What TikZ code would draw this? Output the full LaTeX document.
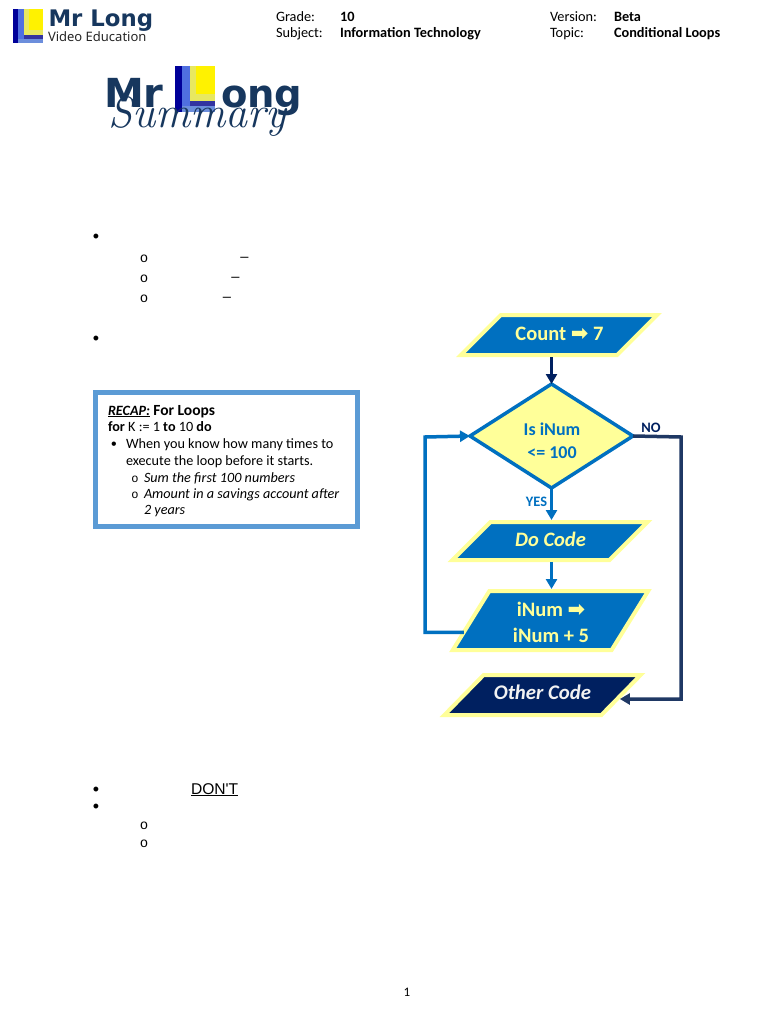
\documentclass[tikz,border=0pt]{standalone}
\usepackage{fontspec}
\setmainfont{Carlito}
\newfontfamily\dv{DejaVu Sans}
\newfontfamily\las{Liberation Sans}
\newfontfamily\lam{Liberation Mono}
\newfontfamily\nos{Noto Sans}
\newfontfamily\lmr{Latin Modern Roman}
\usetikzlibrary{shapes.geometric,arrows.meta,calc}
\definecolor{fcblue}{HTML}{0070C0}
\definecolor{fcyellow}{HTML}{FFFF99}
\definecolor{fcnavy}{HTML}{002060}
\definecolor{fcline}{HTML}{1F3864}
\definecolor{logotext}{HTML}{17375E}
\definecolor{boxblue}{HTML}{5B9BD5}
\definecolor{ldark}{HTML}{000099}
\definecolor{lmid}{HTML}{4F6FE0}
\definecolor{lpale}{HTML}{E8E860}
\definecolor{lyellow}{HTML}{FFF200}
\definecolor{lband}{HTML}{3333A0}
\definecolor{llight}{HTML}{6C8EDC}
\newcommand{\fs}[1]{\fontsize{#1}{#1}\selectfont}
\newcommand{\logoL}[3]{%
 \begin{scope}[shift={(#1,#2)},x=#3pt,y=-#3pt]
  \fill[lpale] (11,0) rectangle (30,26);
  \fill[lyellow] (16,0) rectangle (30,21);
  \fill[lmid] (5,0) rectangle (11,34);
  \fill[ldark] (0,0) rectangle (5,34);
  \fill[lband] (11,26) rectangle (30,30);
  \fill[llight] (5,30) rectangle (30,34);
 \end{scope}}
\tikzset{
 txt/.style={inner sep=0pt,outer sep=0pt,anchor=base west,text=black},
 hdr/.style={txt,font=\fs{14.3}},
 hdrb/.style={txt,font=\fs{14.3}\bfseries},
 recap/.style={txt,font=\fs{14.2}},
 bul/.style={inner sep=0pt,anchor=base,font=\las\fs{18},text=black},
 circ/.style={inner sep=0pt,font=\lam\fs{14},text=black},
 dashmark/.style={inner sep=0pt,font=\las\fs{14.7},text=black},
 para/.style={rectangle,draw=fcyellow,fill=fcblue,line width=4pt,inner sep=0pt,outer sep=0pt},
 paratext/.style={inner sep=0pt,outer sep=0pt,text=fcyellow,font=\fs{20.5}\bfseries,align=center},
 decide/.style={diamond,draw=fcblue,fill=fcyellow,line width=3.5pt,inner sep=0pt,outer sep=0pt,
   aspect=1.6,minimum width=163pt,minimum height=104pt},
 decidetext/.style={inner sep=0pt,outer sep=0pt,text=fcblue,font=\fs{18}\bfseries,align=center},
 blueflow/.style={draw=fcblue,line width=3.5pt,-{Triangle[length=10pt,width=11pt]}},
 navyflow/.style={draw=fcnavy,line width=3.5pt,-{Triangle[length=10pt,width=11pt]}},
 noflow/.style={draw=fcline,line width=3.5pt,-{Triangle[length=10pt,width=11pt]}},
}
\begin{document}
\begin{tikzpicture}[x=1pt,y=-1pt]
\useasboundingbox (0,0) rectangle (768,1024);
\fill[white] (0,0) rectangle (768,1024);
% header
\logoL{13}{9}{1}
\node[txt,font=\dv\bfseries\fs{22.8},text=logotext] (hname) at (48.5,27) {Mr Long};
\node[txt,font=\nos\fs{13},text=black!85] (hvideo) at (48,42) {Video Education};
\node[hdr] (grade) at (276,21.5) {Grade:};
\node[hdrb] (gradev) at (340,21.5) {10};
\node[hdr] (subject) at (276,37.5) {Subject:};
\node[hdrb] (subjectv) at (340,37.5) {Information Technology};
\node[hdr] (version) at (550,21.5) {Version:};
\node[hdrb] (versionv) at (614,21.5) {Beta};
\node[hdr] (topic) at (550,37.5) {Topic:};
\node[hdrb] (topicv) at (614,37.5) {Conditional Loops};
% summary logo
\logoL{175}{66}{1.34}
\node[txt,font=\dv\bfseries\fs{40},text=logotext] (bigmr) at (104,108) {Mr};
\node[txt,font=\dv\bfseries\fs{38.5},text=logotext] (bigong) at (221,108) {ong};
\node[txt,font=\lmr\itshape\fs{44},text=logotext] (summary) at (108,128) {Summary};
% list marks
\node[bul] (b1) at (96,242.5) {•};
\node[circ] (c1) at (144,259) {o};
\node[dashmark] (d1) at (244.5,259) {–};
\node[circ] (c2) at (144,279) {o};
\node[dashmark] (d2) at (235.5,279) {–};
\node[circ] (c3) at (144,299) {o};
\node[dashmark] (d3) at (227,299) {–};
\node[bul] (b2) at (96,344.5) {•};
\node[bul] (b3) at (96,795.5) {•};
\node[txt,font=\las\fs{15.6}] (dont) at (191,794) {\underline{DON'T}};
\node[bul] (b4) at (96,812.5) {•};
\node[circ] (c4) at (144,826) {o};
\node[circ] (c5) at (144,844) {o};
\node[txt,font=\fs{13},anchor=base] (page) at (407,996) {1};
% recap box
\node[draw=boxblue,line width=5pt,fill=white,inner sep=0pt,outer sep=0pt,minimum width=262pt,minimum height=134pt] (box) at (226.5,459.5) {};
\node[recap] (r1) at (108,415) {\textbf{\textit{\underline{RECAP:}}} {\fs{15.5}\textbf{For Loops}}};
\node[recap] (r2) at (108,431) {\textbf{for} K := 1 \textbf{to} 10 \textbf{do}};
\node[recap,anchor=base,font=\las\fs{16}] (rb) at (114,449.5) {•};
\node[recap] (r3) at (126,448) {When you know how many times to};
\node[recap] (r4) at (126,465) {execute the loop before it starts.};
\node[recap,anchor=center,font=\lam\fs{12}] (rc1) at (135,479) {o};
\node[recap] (r5) at (144,482) {\textit{Sum the first 100 numbers}};
\node[recap,anchor=center,font=\lam\fs{12}] (rc2) at (135,495) {o};
\node[recap] (r6) at (144,498) {\textit{Amount in a savings account after}};
\node[recap] (r7) at (144,514) {\textit{2 years}};
% flowchart
\begin{scope}[shift={(559,335)},xslant=1,transform shape]
 \node[para,minimum width=156.3pt,minimum height=40pt] (count) at (0,0) {};
\end{scope}
\node[decide] (test) at (551.5,436) {};
\begin{scope}[shift={(550,541)},xslant=1,transform shape]
 \node[para,minimum width=157pt,minimum height=38pt] (docode) at (0,0) {};
\end{scope}
\begin{scope}[shift={(550.5,620.5)},xslant=0.62,transform shape]
 \node[para,minimum width=158.8pt,minimum height=59pt] (inum) at (0,0) {};
\end{scope}
\begin{scope}[shift={(542.5,695)},xslant=0.98,transform shape]
 \node[para,fill=fcnavy,minimum width=157pt,minimum height=40pt] (other) at (0,0) {};
\end{scope}
\node[paratext,anchor=base] (counttext) at (559.5,340) {Count {\dv\fs{21}➡} 7};
\node[decidetext] (testtext) at (552,440.8) {Is iNum\\[4.7pt]<= 100};
\node[paratext,anchor=base,font=\fs{20.5}\bfseries\itshape] (docodetext) at (550.5,546) {Do Code};
\node[paratext] (inumtext) at (551,622.5) {iNum {\dv\fs{21}➡}\\[6pt]iNum + 5};
\node[paratext,anchor=base,text=white!95!black,font=\fs{20.8}\bfseries\itshape] (othertext) at (542.5,699.5) {Other Code};
\coordinate (loopstart) at ($(inum.south west)!0.3!(inum.north west)$);
\coordinate (loopa) at (425,632);
\coordinate (loopb) at (425,437);
\coordinate (noa) at (681,437);
\coordinate (nohit) at ($(other.south east)!0.4!(other.north east)$);
\draw[navyflow,shorten <=2pt] (count.south -| test.north) -- (test.north);
\draw[blueflow,shorten >=2pt] (test.south) -- (test.south |- docode.north);
\draw[blueflow,shorten <=2pt,shorten >=2pt] (test.south |- docode.south) -- (test.south |- inum.north);
\draw[blueflow] (loopstart) -- (loopstart -| loopa) -- (loopb) -- (test.west);
\draw[noflow,shorten >=2.8pt] (test.east) -- (noa) -- (noa |- nohit) -- (nohit);
\node[inner sep=0pt,font=\fs{14.4}\bfseries,text=fcnavy] (nolabel) at (651,428) {NO};
\node[inner sep=0pt,font=\fs{14.4}\bfseries,text=fcblue] (yeslabel) at (536.5,502) {YES};
\end{tikzpicture}
\end{document}
